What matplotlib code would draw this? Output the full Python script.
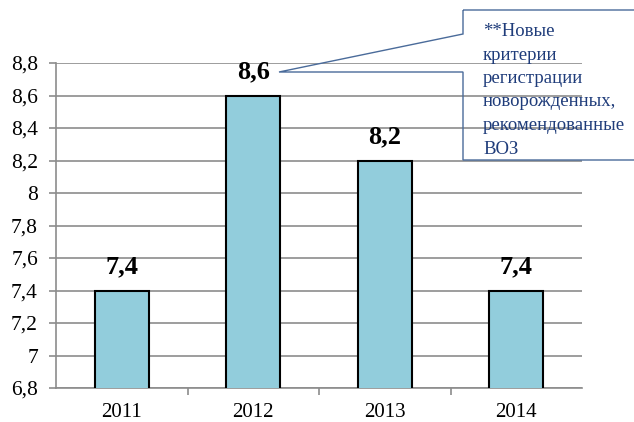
import matplotlib.pyplot as plt
from matplotlib.patches import Polygon

years = ['2011', '2012', '2013', '2014']
values = [7.4, 8.6, 8.2, 7.4]
yticks = [6.8, 7.0, 7.2, 7.4, 7.6, 7.8, 8.0, 8.2, 8.4, 8.6, 8.8]
note = '**Новые\nкритерии\nрегистрации\nноворожденных,\nрекомендованные\nВОЗ'

plt.rcParams['font.family'] = ['Liberation Serif', 'DejaVu Serif']

W, H = 634, 422
fig = plt.figure(figsize=(W / 100, H / 100), dpi=100)
ax = fig.add_axes([56 / W, 1 - 388 / H, 526 / W, 325 / H])

x = range(len(years))
bars = ax.bar(x, values, width=0.41, bottom=0, color='#92CDDC',
              edgecolor='black', linewidth=1.5, zorder=3)
for i, v in enumerate(values):
    ax.annotate(('%.1f' % v).replace('.', ','), (i, v), xytext=(0, 12.5),
                textcoords='offset points', ha='center', va='baseline',
                fontsize=19, fontweight='bold', zorder=4)

ax.set_ylim(6.8, 8.8)
ax.set_xlim(-0.5, len(years) - 0.5)
ax.set_yticks(yticks)
ax.set_yticklabels([('%g' % t).replace('.', ',') for t in yticks], fontsize=15.5)
ax.yaxis.grid(True, color='#8c8c8c', linewidth=1.2, zorder=0)
ax.set_xticks(list(x))
ax.set_xticklabels(years, fontsize=15)
ax.tick_params(axis='x', length=0, pad=11)
ax.tick_params(axis='y', length=5, width=1.2, color='#8c8c8c', pad=8)
ax.set_xticks([0.5, 1.5, 2.5], minor=True)
ax.tick_params(axis='x', which='minor', length=5, width=1.2, color='#8c8c8c')
for s in ['top', 'right']:
    ax.spines[s].set_visible(False)
for s in ['left', 'bottom']:
    ax.spines[s].set_color('#8c8c8c')
    ax.spines[s].set_linewidth(1.2)

# callout box with leader to the 2012 label
pts = [(463, 10), (640, 10), (640, 160), (463, 160), (463, 72), (279, 72), (463, 34)]
callout = Polygon([(px / W, 1 - py / H) for px, py in pts], closed=True,
                  transform=fig.transFigure, facecolor='none',
                  edgecolor='#4a6b9a', linewidth=1.0, clip_on=False)
fig.add_artist(callout)
fig.text(483 / W, 1 - 23 / H, note, ha='left', va='top', fontsize=13.5,
         color='#1f3c7a', linespacing=1.5)

fig.savefig('out.png', dpi=100)
